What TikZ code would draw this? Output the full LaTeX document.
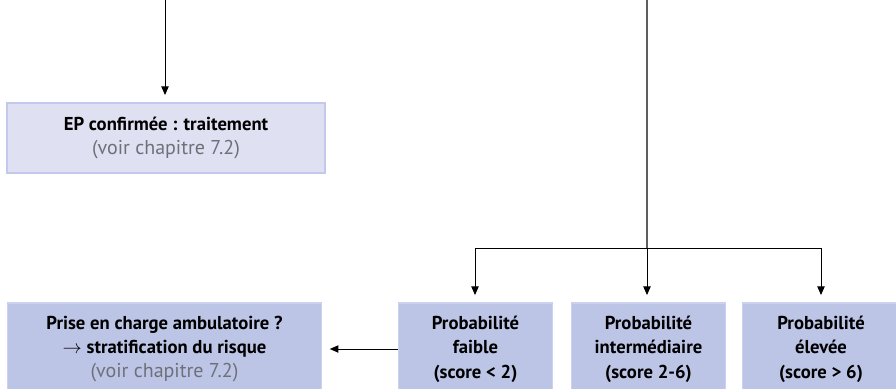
\documentclass[tikz,border=0pt]{standalone}
\usepackage{fontspec}
\setmainfont{PT Sans}
\usetikzlibrary{arrows.meta}
\definecolor{paleBox}{HTML}{DFE1F3}
\definecolor{paleEdge}{HTML}{C3C9EC}
\definecolor{midBox}{HTML}{BDC5E7}
\definecolor{midEdge}{HTML}{CBD1EE}
\definecolor{noteGray}{HTML}{6E7079}
\definecolor{trunkGray}{HTML}{5E5E5E}
\tikzset{
  flowbox/.style={rectangle, align=center, inner sep=2pt,
    font=\fontsize{14}{18.3}\selectfont\bfseries, text=black},
  palebox/.style={flowbox, fill=paleBox, draw=paleEdge, line width=0.9pt},
  midbox/.style={flowbox, fill=midBox, draw=midEdge, line width=0.9pt},
  link/.style={draw=black, line width=0.75pt, -{Triangle[length=6.5pt,width=5.5pt]}},
  plain/.style={draw=black, line width=0.75pt},
  trunk/.style={draw=trunkGray, line width=1.5pt},
}
\newcommand{\note}[1]{{\fontsize{15}{18.3}\selectfont\mdseries\color{noteGray}#1}}
\begin{document}
\begin{tikzpicture}[x=0.75pt, y=-0.75pt]
  \useasboundingbox (0,0) rectangle (896,389);
  \clip (0,0) rectangle (896,389);

  % boxes
  \node[palebox, minimum width=238.5pt, minimum height=52.5pt] (confirmed) at (166,138)
    {EP confirmée : traitement\\ \note{(voir chapitre 7.2)}};
  \node[midbox, minimum width=236pt, minimum height=69pt] (ambulatory) at (164.5,349)
    {Prise en charge ambulatoire ?\\ $\rightarrow$ stratification du risque\\ \note{(voir chapitre 7.2)}};
  \node[midbox, minimum width=116pt, minimum height=69pt] (low) at (475.5,349)
    {Probabilité\\ faible\\ (score < 2)};
  \node[midbox, minimum width=116pt, minimum height=69pt] (mid) at (648.5,349)
    {Probabilité\\ intermédiaire\\ (score 2-6)};
  \node[midbox, minimum width=118pt, minimum height=69pt] (high) at (821,349)
    {Probabilité\\ élevée\\ (score > 6)};

  % connector anchors
  \coordinate (topL) at (165,-2);
  \coordinate (topR) at (647,-2);
  \coordinate (fork) at (647,248);
  \coordinate (forkL) at (475,248);
  \coordinate (forkR) at (821,248);

  % connectors
  \draw[link, shorten >=5.5pt] (topL) -- (confirmed.north -| topL);
  \draw[trunk] (topR) -- (fork);
  \draw[plain] (forkL) -- (forkR);
  \draw[link, shorten >=5.5pt] (forkL) -- (low.north -| forkL);
  \draw[link, shorten >=5.5pt] (fork) -- (mid.north -| fork);
  \draw[link, shorten >=5.5pt] (forkR) -- (high.north -| forkR);
  \draw[link, shorten >=5.5pt] (low.west) -- (ambulatory.east);
\end{tikzpicture}
\end{document}
